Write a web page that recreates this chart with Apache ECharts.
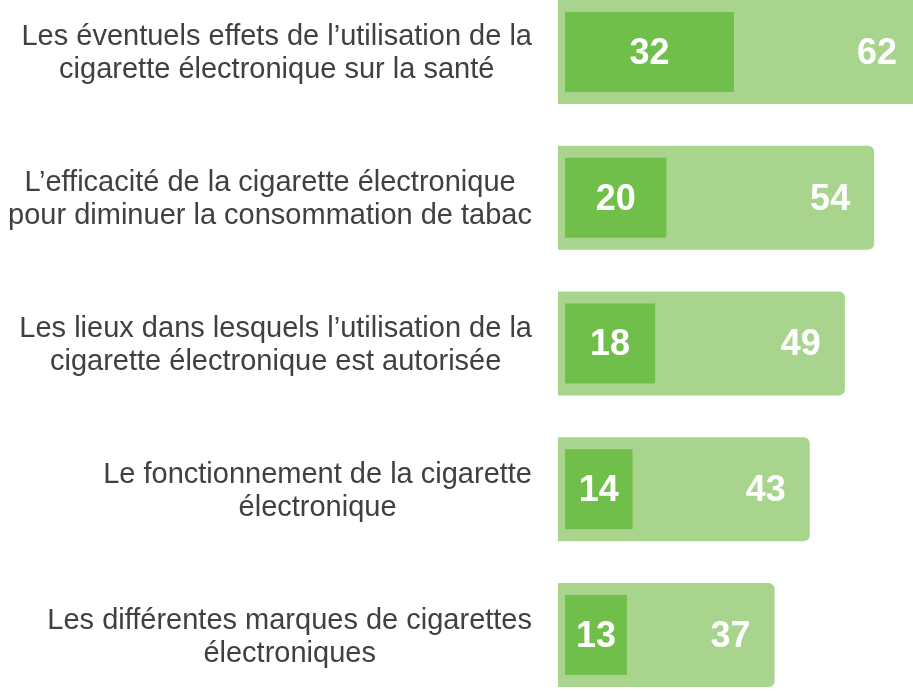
<!DOCTYPE html>
<html>
<head>
<meta charset="utf-8">
<script src="https://cdn.jsdelivr.net/npm/echarts@6/dist/echarts.min.js"></script>
<style>
  html, body { margin: 0; padding: 0; background: #fff; }
  #chart { width: 913px; height: 692px; }
</style>
</head>
<body>
<div id="chart"></div>
<script>
// questions (one per bar, top to bottom)
var categories = [
  'Les éventuels effets de l’utilisation de la\ncigarette électronique sur la santé',
  'L’efficacité de la cigarette électronique\npour diminuer la consommation de tabac',
  'Les lieux dans lesquels l’utilisation de la\ncigarette électronique est autorisée',
  'Le fonctionnement de la cigarette\nélectronique',
  'Les différentes marques de cigarettes\nélectroniques'
];
// light bar (total) and dark bar (inner) values
var totalValues = [62, 54, 49, 43, 37];
var innerValues = [32, 20, 18, 14, 13];

var myChart = echarts.init(document.getElementById('chart'));

var font = 'Liberation Sans, Arial, sans-serif';

var option = {
  animation: false,
  backgroundColor: '#ffffff',
  grid: [
    { left: 558, right: -8, top: -21, bottom: -16, outerBoundsMode: 'none', containLabel: false },
    { left: 565, right: -8, top: -21, bottom: -16, outerBoundsMode: 'none', containLabel: false }
  ],
  xAxis: [
    { type: 'value', gridIndex: 0, min: 0, max: 62, show: false },
    // inner bars use their own (shifted) scale, as in the original graphic
    { type: 'value', gridIndex: 1, min: 2, max: 65.2, show: false }
  ],
  yAxis: [
    {
      type: 'category',
      gridIndex: 0,
      inverse: true,
      data: categories,
      axisLine: { show: false },
      axisTick: { show: false },
      axisLabel: {
        margin: 26,
        align: 'right',
        padding: [4, 0, 0, 0],
        formatter: function (v) {
          return v.split('\n').map(function (l) { return '{c|' + l + '}'; }).join('\n');
        },
        rich: {
          c: {
            align: 'center',
            fontFamily: font,
            fontSize: 29,
            lineHeight: 33,
            color: '#404040'
          }
        }
      }
    },
    {
      type: 'category',
      gridIndex: 1,
      inverse: true,
      data: categories,
      show: false
    }
  ],
  series: [
    {
      type: 'bar',
      xAxisIndex: 0,
      yAxisIndex: 0,
      data: totalValues,
      barWidth: 104,
      itemStyle: { color: '#A9D48E', borderRadius: [0, 6, 6, 0] },
      label: {
        show: true,
        position: 'insideRight',
        distance: 24,
        offset: [0, 2],
        color: '#ffffff',
        fontFamily: font,
        fontWeight: 'bold',
        fontSize: 36
      },
      silent: true
    },
    {
      type: 'bar',
      xAxisIndex: 1,
      yAxisIndex: 1,
      data: innerValues,
      barWidth: 80,
      itemStyle: { color: '#71BF4B' },
      label: {
        show: true,
        position: 'inside',
        offset: [0, 2],
        color: '#ffffff',
        fontFamily: font,
        fontWeight: 'bold',
        fontSize: 36
      },
      silent: true
    }
  ]
};

myChart.setOption(option);
window.addEventListener('resize', function () { myChart.resize(); });
</script>
</body>
</html>
